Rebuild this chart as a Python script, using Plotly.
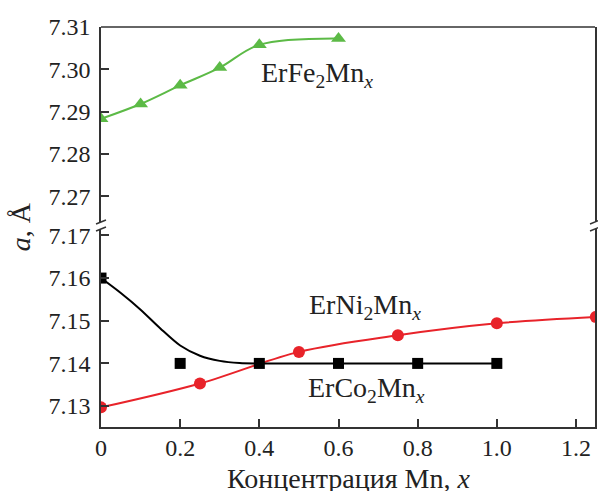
import plotly.graph_objects as go

# ---- data ----
fe_x = [0.0, 0.1, 0.2, 0.3, 0.4, 0.6]
fe_y = [7.2883, 7.2918, 7.2962, 7.3004, 7.3058, 7.3073]

ni_x = [0.0, 0.25, 0.5, 0.75, 1.0, 1.25]
ni_y = [7.1297, 7.1353, 7.1427, 7.1466, 7.1494, 7.1509]

co_x = [0.0, 0.2, 0.4, 0.6, 0.8, 1.0]
co_y = [7.160, 7.140, 7.140, 7.140, 7.140, 7.140]

# fitted guide curve for ErCo2Mnx as drawn in the picture
co_fit_x = [0.0, 0.05, 0.1, 0.15, 0.2, 0.25, 0.3, 0.35, 0.4, 0.6, 0.8, 1.0]
co_fit_y = [7.160, 7.1565, 7.1526, 7.1482, 7.1442, 7.1418, 7.1406, 7.1401, 7.1400, 7.1400, 7.1400, 7.1400]

x_ticks = [0, 0.2, 0.4, 0.6, 0.8, 1.0, 1.2]
x_ticktext = ["0", "0.2", "0.4", "0.6", "0.8", "1.0", "1.2"]
y_low_ticks = [7.13, 7.14, 7.15, 7.16, 7.17]
y_up_ticks = [7.27, 7.28, 7.29, 7.30, 7.31]

GREEN = "#5cba46"
RED = "#e8232a"
BLACK = "#000000"
FONT = "Liberation Serif, Times New Roman, serif"
FS = 24
FS_LABEL = 28
AX = "#333333"

fig = go.Figure()

fig.add_trace(go.Scatter(x=fe_x, y=fe_y, xaxis="x", yaxis="y2", mode="lines+markers",
                         line=dict(color=GREEN, width=2, shape="spline", smoothing=1.0),
                         marker=dict(symbol="triangle-up", size=13, color=GREEN),
                         showlegend=False))
fig.add_trace(go.Scatter(x=ni_x, y=ni_y, xaxis="x", yaxis="y", mode="lines+markers",
                         line=dict(color=RED, width=2, shape="spline", smoothing=1.0),
                         marker=dict(symbol="circle", size=12, color=RED),
                         showlegend=False))
fig.add_trace(go.Scatter(x=co_fit_x, y=co_fit_y, xaxis="x", yaxis="y", mode="lines",
                         line=dict(color=BLACK, width=2, shape="spline", smoothing=0.8),
                         showlegend=False))
fig.add_trace(go.Scatter(x=co_x, y=co_y, xaxis="x", yaxis="y", mode="markers",
                         marker=dict(symbol="square", size=11, color=BLACK),
                         showlegend=False))

L, R, T, B = 101, 1, 27, 64
W, H = 598, 491
PW = W - L - R
PH = H - T - B

def px(xp):
    return (xp - L) / PW

def py(yp):
    return (T + PH - yp) / PH

up_bot = 222
low_top = 229

axis_common = dict(showline=True, linecolor=AX, linewidth=1.5, ticks="inside", ticklen=8,
                   tickcolor=AX, tickwidth=1.5, showgrid=False, zeroline=False,
                   tickfont=dict(family=FONT, size=FS, color="#222222"))

fig.update_layout(
    width=W, height=H,
    margin=dict(l=L, r=R, t=T, b=B),
    plot_bgcolor="white", paper_bgcolor="white",
    font=dict(family=FONT, size=FS, color="#222222"),
    xaxis=dict(range=[0, 1.248], domain=[0, 1], anchor="y", tickvals=x_ticks,
               ticktext=x_ticktext, ticklabelstandoff=-2, **axis_common),
    yaxis=dict(range=[7.1251, 7.1715], domain=[0, py(low_top)], anchor="x",
               tickvals=y_low_ticks, ticktext=[f"{v:.2f}" for v in y_low_ticks],
               mirror=True, ticklabelstandoff=4, **axis_common),
    yaxis2=dict(range=[7.2639, 7.31], domain=[py(up_bot), 1], anchor="x",
                tickvals=y_up_ticks, ticktext=[f"{v:.2f}" for v in y_up_ticks],
                mirror=True, ticklabelstandoff=4, **axis_common),
)

# top frame line
fig.add_shape(type="line", xref="paper", yref="paper", x0=0, x1=1, y0=1, y1=1,
              line=dict(color=AX, width=1.5))

# axis break marks
for xc in (L, L + PW):
    for yc in (up_bot, low_top):
        fig.add_shape(type="line", xref="paper", yref="paper",
                      x0=px(xc - 5), x1=px(xc + 5), y0=py(yc + 2), y1=py(yc - 2),
                      line=dict(color=AX, width=1.5))

tfont = dict(family=FONT, size=FS_LABEL, color="#222222")
fig.add_annotation(x=0.40, y=7.2987, xref="x", yref="y2", xanchor="left", yanchor="middle",
                   text="ErFe<sub>2</sub>Mn<sub><i>x</i></sub>", showarrow=False, font=tfont)
fig.add_annotation(x=0.52, y=7.1534, xref="x", yref="y", xanchor="left", yanchor="middle",
                   text="ErNi<sub>2</sub>Mn<sub><i>x</i></sub>", showarrow=False, font=tfont)
fig.add_annotation(x=0.517, y=7.134, xref="x", yref="y", xanchor="left", yanchor="middle",
                   text="ErCo<sub>2</sub>Mn<sub><i>x</i></sub>", showarrow=False, font=tfont)

fig.add_annotation(x=0.5, y=py(478), xref="paper", yref="paper", xanchor="center", yanchor="middle",
                   text="Концентрация Mn, <i>x</i>", showarrow=False, font=tfont)
fig.add_annotation(x=px(20), y=0.5, xref="paper", yref="paper", xanchor="center", yanchor="middle",
                   text="<i>a</i>, Å", textangle=-90, showarrow=False, font=tfont)

fig.write_html("out.html", config={"displayModeBar": False},
               post_script="document.body.style.margin='0';document.body.style.padding='0';")
